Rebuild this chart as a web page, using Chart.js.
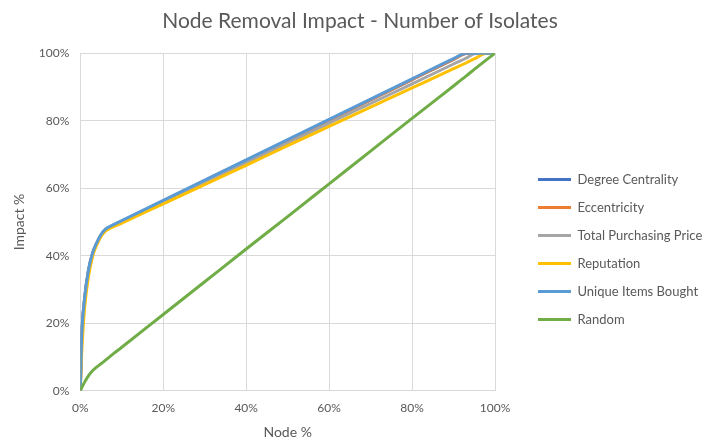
<!DOCTYPE html>
<html>
<head>
<meta charset="utf-8">
<script src="https://cdn.jsdelivr.net/npm/chart.js@4"></script>
<style>
    html, body { margin: 0; padding: 0; background: #fff; }
    #wrap { width: 723px; height: 441px; }
</style>
</head>
<body>
<div id="wrap"><canvas id="myChart"></canvas></div>
<script>
// node % removed (x)
var nodePct = [0, 0.3, 1, 2, 3, 4, 5, 6, 7, 8, 10, 20, 30, 40, 50, 60, 70, 80, 90, 93, 95, 98, 100];

// impact % per removal strategy (y)
var degreeData = [0, 14.8, 26.8, 35.8, 40.8, 43.8, 46.1, 47.6, 48.4, 49.0, 50.2, 56.2, 62.2, 68.2, 74.2, 80.2, 86.2, 92.2, 98.2, 99.9, 100, 100, 100];
var eccentricityData = [0, 14.8, 26.8, 35.8, 40.8, 43.8, 46.1, 47.6, 48.4, 49.0, 50.2, 56.2, 62.2, 68.2, 74.2, 80.2, 86.2, 92.2, 98.2, 99.9, 100, 100, 100];
var totalPriceData = [0, 14.5, 26.5, 35.5, 40.6, 43.6, 46.0, 47.5, 48.3, 48.9, 50.1, 55.9, 61.8, 67.6, 73.4, 79.3, 85.1, 90.9, 96.8, 98.5, 99.8, 100, 100];
var reputationData = [0, 10, 24, 34, 40, 43.3, 45.7, 47.2, 48.0, 48.6, 49.7, 55.4, 61.1, 66.8, 72.6, 78.3, 84.0, 89.7, 95.4, 97.1, 98.3, 100, 100];
var uniqueItemsData = [0, 15, 27, 36, 41, 44, 46.3, 47.8, 48.6, 49.2, 50.4, 56.4, 62.4, 68.4, 74.4, 80.4, 86.4, 92.4, 98.4, 100, 100, 100, 100];
var randomData = [0, 0.8, 2.5, 4.5, 6.0, 7.1, 8.0, 9.0, 10.0, 11.0, 12.9, 22.6, 32.3, 42.0, 51.6, 61.3, 71.0, 80.7, 90.3, 93.2, 95.2, 98.1, 100];

var seriesNames = ['Degree Centrality', 'Eccentricity', 'Total Purchasing Price', 'Reputation', 'Unique Items Bought', 'Random'];
var seriesColors = ['#4472c4', '#ed7d31', '#a5a5a5', '#ffc000', '#5b9bd5', '#70ad47'];
var seriesValues = [degreeData, eccentricityData, totalPriceData, reputationData, uniqueItemsData, randomData];

var tickStep = 20;
var textColor = '#595959';
var fontFamily = "Lato, 'Open Sans', sans-serif";

// legend box size / nudge (Excel puts it lower and further in)
var legendWidth = 214;
var legendShiftX = 28;
var legendShiftY = 27;

function toPoints(values) {
    return nodePct.map(function(x, i) {
        return { x: x, y: values[i] };
    });
}

var datasets = seriesNames.map(function(name, i) {
    return {
        label: name,
        data: toPoints(seriesValues[i]),
        borderColor: seriesColors[i],
        backgroundColor: seriesColors[i],
        borderWidth: 3,
        pointRadius: 0,
        pointStyle: 'line',
        cubicInterpolationMode: 'monotone',
        // later series sit on top, like the original
        order: seriesNames.length - i
    };
});

const legendPlacer = {
    id: 'legendPlacer',
    beforeInit: function(chart) {
        var legend = chart.legend;
        if (!legend) return;
        var fit = legend.fit;
        legend.fit = function() {
            fit.call(this);
            this.width = legendWidth;
        };
    },
    afterLayout: function(chart) {
        var legend = chart.legend;
        if (!legend) return;
        legend.left += legendShiftX;
        legend.right += legendShiftX;
        legend.top += legendShiftY;
        legend.bottom += legendShiftY;
    }
};

const ctx = document.getElementById('myChart').getContext('2d');
var myChart = new Chart(ctx, {
    type: 'line',
    data: { datasets: datasets },
    plugins: [legendPlacer],
    options: {
        responsive: true,
        maintainAspectRatio: false,
        animation: false,
        layout: {
            padding: { left: 11, right: 14, top: 4, bottom: 0 }
        },
        plugins: {
            title: {
                display: true,
                text: 'Node Removal Impact - Number of Isolates',
                color: textColor,
                font: { family: fontFamily, size: 21, weight: 'normal' },
                padding: { top: 5, bottom: 19 }
            },
            legend: {
                position: 'right',
                labels: {
                    usePointStyle: true,
                    pointStyleWidth: 33,
                    boxHeight: 13,
                    padding: 15,
                    color: textColor,
                    font: { family: fontFamily, size: 13 },
                    sort: function(a, b) {
                        return a.datasetIndex - b.datasetIndex;
                    }
                }
            },
            tooltip: { enabled: false }
        },
        scales: {
            x: {
                type: 'linear',
                min: 0,
                max: 100,
                ticks: {
                    stepSize: tickStep,
                    color: textColor,
                    padding: 10,
                    font: { family: fontFamily, size: 12 },
                    callback: function(v) { return v + '%'; }
                },
                grid: { color: '#d9d9d9', drawTicks: false },
                border: { color: '#d9d9d9' },
                title: {
                    display: true,
                    text: 'Node %',
                    color: textColor,
                    font: { family: fontFamily, size: 14 },
                    padding: { top: -1, bottom: 0 }
                }
            },
            y: {
                type: 'linear',
                min: 0,
                max: 100,
                ticks: {
                    stepSize: tickStep,
                    color: textColor,
                    padding: 11,
                    font: { family: fontFamily, size: 12 },
                    callback: function(v) { return v + '%'; }
                },
                grid: { color: '#d9d9d9', drawTicks: false },
                border: { color: '#d9d9d9' },
                title: {
                    display: true,
                    text: 'Impact %',
                    color: textColor,
                    font: { family: fontFamily, size: 14 },
                    padding: { top: 0, bottom: 0 }
                }
            }
        }
    }
});
</script>
</body>
</html>
